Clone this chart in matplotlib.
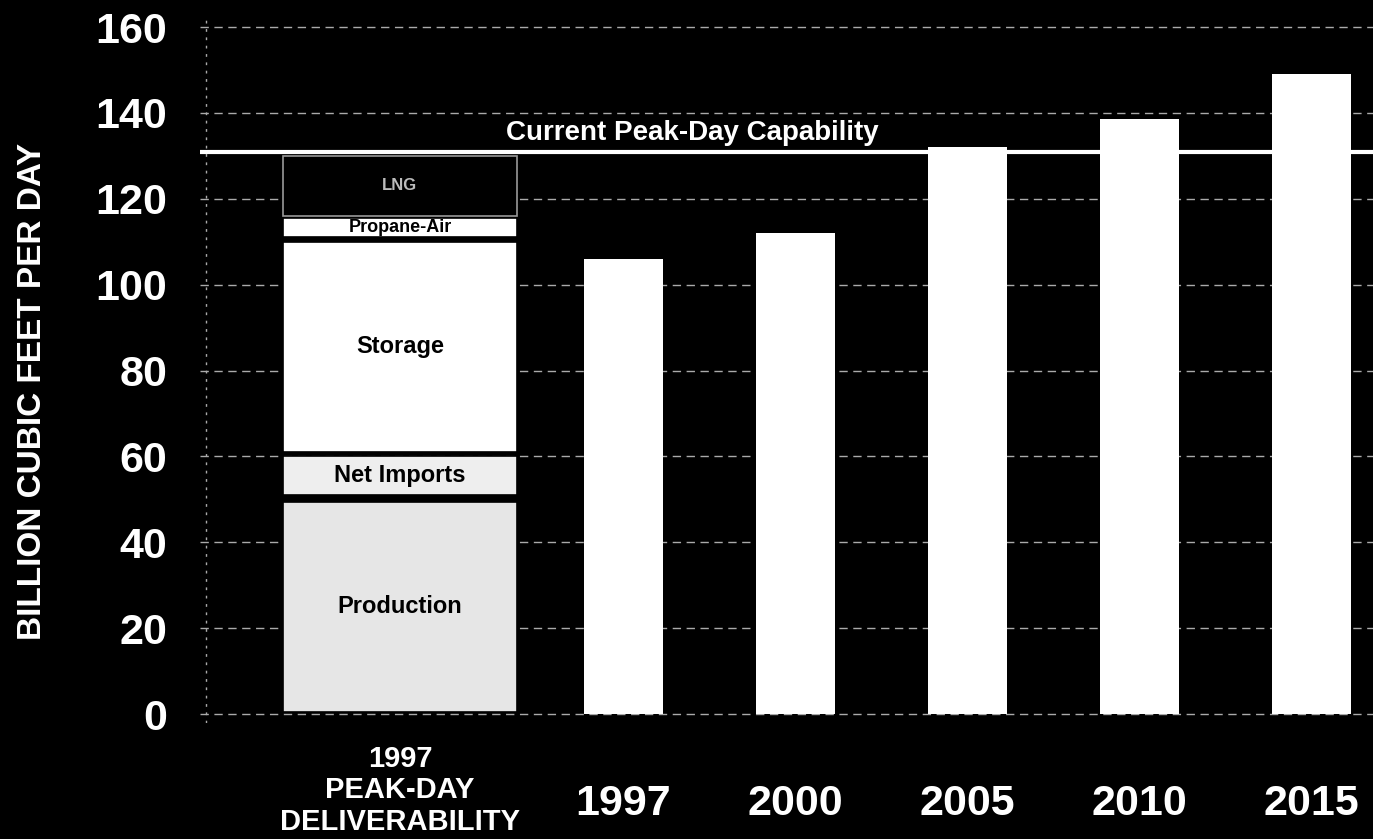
import matplotlib.pyplot as plt

# stacked 1997 peak-day deliverability (bottom, top) in Bcf/d
seg_names = ["Production", "Net Imports", "Storage", "Propane-Air", "LNG"]
seg_bottom = [0.5, 51, 61, 111, 116]
seg_top = [49.5, 60, 110, 115.5, 130]
seg_colors = ["#e6e6e6", "#eeeeee", "#ffffff", "#ffffff", "#000000"]
seg_text = ["black", "black", "black", "black", "#bbbbbb"]
seg_size = [17, 17, 17, 13, 12]

# projected peak-day requirements
years = ["1997", "2000", "2005", "2010", "2015"]
demand = [106, 112, 132, 138.5, 149]

capability = 131
yticks = [0, 20, 40, 60, 80, 100, 120, 140, 160]

plt.rcParams['font.family'] = ['Liberation Sans', 'DejaVu Sans']

fig = plt.figure(figsize=(13.73, 8.39), dpi=100, facecolor="black")
ax = fig.add_axes([0.146, 0.1387, 0.854, 0.8393])
ax.set_facecolor("black")

# layout of bars
stack_x = 0
year_x = [1.3 + i for i in range(len(years))]

for i in range(len(seg_names)):
    ec = "#999999" if seg_colors[i] == "#000000" else "black"
    ax.bar(stack_x, seg_top[i] - seg_bottom[i], bottom=seg_bottom[i], width=1.36,
           color=seg_colors[i], edgecolor=ec, linewidth=1.2, zorder=3)
    ax.text(stack_x, (seg_top[i] + seg_bottom[i]) / 2, seg_names[i],
            ha="center", va="center", color=seg_text[i], fontsize=seg_size[i],
            fontweight="bold", zorder=4)

ax.bar(year_x, demand, width=0.46, color="white", zorder=3)

# current capability line
ax.axhline(capability, color="white", linewidth=3, zorder=5)
ax.text(0.62, capability + 1.2, "Current Peak-Day Capability", color="white",
        fontsize=20, fontweight="bold", ha="left", va="bottom", zorder=5)

ax.set_xlim(-1.16, 5.66)
ax.set_ylim(-2, 162)
ax.set_yticks(yticks)
ax.set_yticklabels([str(t) for t in yticks], fontsize=31, fontweight="bold",
                   color="white")
ax.tick_params(axis="y", length=0, pad=24)
ax.grid(axis="y", color="#aaaaaa", linestyle=(0, (6, 4)), linewidth=1, zorder=1)
ax.axvline(-1.13, color="#aaaaaa", linestyle=(0, (2, 4)), linewidth=1, zorder=1)

ax.set_xticks([stack_x] + year_x)
ax.set_xticklabels([""] + years, fontsize=31, fontweight="bold", color="white")
ax.tick_params(axis="x", length=0, pad=44)
ax.text(stack_x, -7.2, "1997\nPEAK-DAY\nDELIVERABILITY", ha="center", va="top",
        color="white", fontsize=21, fontweight="bold", linespacing=1.15)

for s in ax.spines.values():
    s.set_visible(False)

fig.text(0.024, 0.533, "BILLION CUBIC FEET PER DAY", rotation=90, color="white",
         fontsize=24, fontweight="bold", ha="center", va="center")

fig.savefig("out.png", dpi=100, facecolor="black")
